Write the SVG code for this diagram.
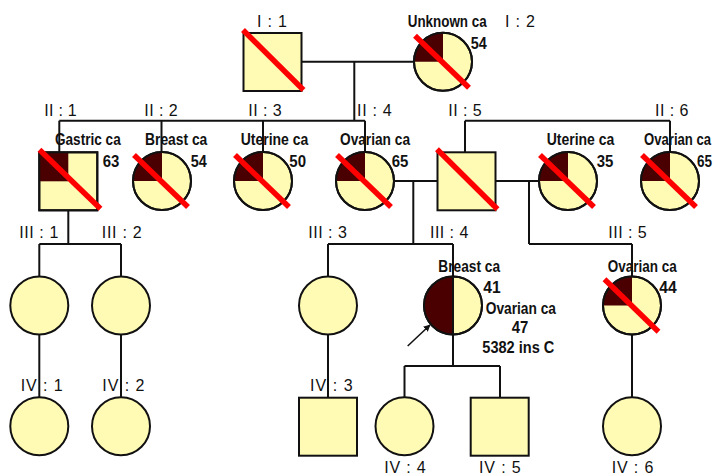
<svg xmlns="http://www.w3.org/2000/svg" width="716" height="475" viewBox="0 0 716 475">
<defs>
<style>
.bg{fill:#ffffff}
.sh{fill:#fffbb5;stroke:#111;stroke-width:2}
.dk{fill:#4a0000;stroke:none}
.ol{fill:none;stroke:#111;stroke-width:2}
.sl{stroke:#ff0000;stroke-width:5.5;stroke-linecap:butt}
.cn line,.cn polyline{stroke:#111;stroke-width:2;fill:none}
.lb{font-family:"Liberation Sans",Arial,sans-serif;font-size:16px;fill:#111}
.bd{font-family:"Liberation Sans Narrow","Arial Narrow","Liberation Sans",Arial,sans-serif;font-weight:bold;font-size:16px;fill:#111}
</style>
<marker id="ah" viewBox="0 0 10 10" refX="9" refY="5" markerWidth="7" markerHeight="7" orient="auto" markerUnits="userSpaceOnUse">
<path d="M0,0 L10,5 L0,10 Z" fill="#111"/>
</marker>
</defs>
<rect class="bg" x="0" y="0" width="716" height="475"/>

<g id="connectors" class="cn">
<line x1="301.5" y1="61.7" x2="414" y2="61.7"/>
<line x1="354.3" y1="61.7" x2="354.3" y2="120.7"/>
<line x1="59.3" y1="120.7" x2="365" y2="120.7"/>
<line x1="59.3" y1="120.7" x2="59.3" y2="152.3"/>
<line x1="161.5" y1="120.7" x2="161.5" y2="152"/>
<line x1="263" y1="120.7" x2="263" y2="152"/>
<line x1="365" y1="120.7" x2="365" y2="152"/>
<line x1="465" y1="120.7" x2="670" y2="120.7"/>
<line x1="465" y1="120.7" x2="465" y2="152.3"/>
<line x1="670" y1="120.7" x2="670" y2="152"/>
<line x1="394" y1="181" x2="437.5" y2="181"/>
<line x1="413.3" y1="181" x2="413.3" y2="244"/>
<line x1="328" y1="244" x2="453" y2="244"/>
<line x1="328" y1="244" x2="328" y2="276.5"/>
<line x1="453" y1="244" x2="453" y2="276.5"/>
<line x1="495.5" y1="181" x2="539" y2="181"/>
<line x1="529" y1="181" x2="529" y2="244"/>
<line x1="529" y1="244" x2="632" y2="244"/>
<line x1="632" y1="244" x2="632" y2="276.5"/>
<line x1="68.3" y1="210.3" x2="68.3" y2="244"/>
<line x1="39.3" y1="244" x2="121" y2="244"/>
<line x1="39.3" y1="244" x2="39.3" y2="276.5"/>
<line x1="121" y1="244" x2="121" y2="276.5"/>
<line x1="39.3" y1="334.5" x2="39.3" y2="397.3"/>
<line x1="121" y1="334.5" x2="121" y2="397.3"/>
<line x1="328" y1="334.5" x2="328" y2="397.7"/>
<line x1="453" y1="334.5" x2="453" y2="366"/>
<line x1="404.5" y1="366" x2="500" y2="366"/>
<line x1="404.5" y1="366" x2="404.5" y2="397.3"/>
<line x1="500" y1="366" x2="500" y2="397.7"/>
<line x1="632" y1="334.5" x2="632" y2="397.3"/>
<line x1="407.7" y1="346" x2="430" y2="325" style="stroke-width:1.5" marker-end="url(#ah)"/>
</g>

<g id="I-1">
<rect class="sh" x="243.5" y="33" width="58" height="58"/>
<line class="sl" x1="243" y1="30" x2="303.5" y2="90"/>
<text class="lb" x="257" y="27" textLength="30" lengthAdjust="spacing">I : 1</text>
</g>
<g id="I-2">
<circle class="sh" cx="443" cy="61.7" r="29"/>
<path class="dk" d="M443,61.7 L414,61.7 A29,29 0 0 1 443,32.7 Z"/>
<circle class="ol" cx="443" cy="61.7" r="29"/>
<line class="sl" x1="415" y1="35.7" x2="469" y2="87.7"/>
<text class="bd" x="407.7" y="27" textLength="79" lengthAdjust="spacingAndGlyphs">Unknown ca</text>
<text class="bd" x="470.7" y="49" textLength="16" lengthAdjust="spacingAndGlyphs">54</text>
<text class="lb" x="505" y="27" textLength="30" lengthAdjust="spacing">I : 2</text>
</g>

<g id="II-1">
<rect class="sh" x="39.3" y="152.3" width="58" height="58"/>
<rect class="dk" x="39.3" y="152.3" width="29" height="29"/>
<rect class="ol" x="39.3" y="152.3" width="58" height="58"/>
<line class="sl" x1="39.5" y1="149.8" x2="100.5" y2="208.8"/>
<text class="lb" x="44.3" y="115.5" textLength="32.4" lengthAdjust="spacing">II : 1</text>
<text class="bd" x="55" y="145" textLength="65.7" lengthAdjust="spacingAndGlyphs">Gastric ca</text>
<text class="bd" x="102.7" y="166.7" textLength="16.6" lengthAdjust="spacingAndGlyphs">63</text>
</g>
<g id="II-2">
<circle class="sh" cx="162" cy="181" r="29"/>
<path class="dk" d="M162,181 L133,181 A29,29 0 0 1 162,152 Z"/>
<circle class="ol" cx="162" cy="181" r="29"/>
<line class="sl" x1="134" y1="155" x2="188" y2="207"/>
<text class="lb" x="144.3" y="115.5" textLength="33.4" lengthAdjust="spacing">II : 2</text>
<text class="bd" x="145" y="145" textLength="62.3" lengthAdjust="spacingAndGlyphs">Breast ca</text>
<text class="bd" x="190.7" y="166.7" textLength="16" lengthAdjust="spacingAndGlyphs">54</text>
</g>
<g id="II-3">
<circle class="sh" cx="263" cy="181" r="29"/>
<path class="dk" d="M263,181 L234,181 A29,29 0 0 1 263,152 Z"/>
<circle class="ol" cx="263" cy="181" r="29"/>
<line class="sl" x1="235" y1="155" x2="289" y2="207"/>
<text class="lb" x="248.3" y="115.5" textLength="33.4" lengthAdjust="spacing">II : 3</text>
<text class="bd" x="240.7" y="145" textLength="67.6" lengthAdjust="spacingAndGlyphs">Uterine ca</text>
<text class="bd" x="289.3" y="166.7" textLength="16.7" lengthAdjust="spacingAndGlyphs">50</text>
</g>
<g id="II-4">
<circle class="sh" cx="365" cy="181" r="29"/>
<path class="dk" d="M365,181 L336,181 A29,29 0 0 1 365,152 Z"/>
<circle class="ol" cx="365" cy="181" r="29"/>
<line class="sl" x1="337" y1="155" x2="391" y2="207"/>
<text class="lb" x="357" y="115.5" textLength="34.7" lengthAdjust="spacing">II : 4</text>
<text class="bd" x="340" y="145" textLength="70" lengthAdjust="spacingAndGlyphs">Ovarian ca</text>
<text class="bd" x="391.7" y="166.7" textLength="16.6" lengthAdjust="spacingAndGlyphs">65</text>
</g>
<g id="II-5">
<rect class="sh" x="437.5" y="152.3" width="58" height="58"/>
<line class="sl" x1="437" y1="149.3" x2="497.5" y2="209.3"/>
<text class="lb" x="448.3" y="115.5" textLength="33.4" lengthAdjust="spacing">II : 5</text>
</g>
<g id="II-5-spouse">
<circle class="sh" cx="568" cy="181" r="29"/>
<path class="dk" d="M568,181 L539,181 A29,29 0 0 1 568,152 Z"/>
<circle class="ol" cx="568" cy="181" r="29"/>
<line class="sl" x1="540" y1="155" x2="594" y2="207"/>
<text class="bd" x="546.7" y="145" textLength="67.6" lengthAdjust="spacingAndGlyphs">Uterine ca</text>
<text class="bd" x="596.7" y="166.7" textLength="16.6" lengthAdjust="spacingAndGlyphs">35</text>
</g>
<g id="II-6">
<circle class="sh" cx="670" cy="181" r="29"/>
<path class="dk" d="M670,181 L641,181 A29,29 0 0 1 670,152 Z"/>
<circle class="ol" cx="670" cy="181" r="29"/>
<line class="sl" x1="642" y1="155" x2="696" y2="207"/>
<text class="lb" x="655" y="115.5" textLength="33.3" lengthAdjust="spacing">II : 6</text>
<text class="bd" transform="translate(644,145) scale(0.82,1)">Ovarian ca</text>
<text class="bd" x="697" y="166.7" textLength="15" lengthAdjust="spacingAndGlyphs">65</text>
</g>

<g id="III-1">
<circle class="sh" cx="39.3" cy="305.5" r="29"/>
<text class="lb" x="19.3" y="238.3" textLength="39" lengthAdjust="spacing">III : 1</text>
</g>
<g id="III-2">
<circle class="sh" cx="121" cy="305.5" r="29"/>
<text class="lb" x="101.7" y="238.3" textLength="40" lengthAdjust="spacing">III : 2</text>
</g>
<g id="III-3">
<circle class="sh" cx="328" cy="305.5" r="29"/>
<text class="lb" x="308.3" y="238.3" textLength="38.5" lengthAdjust="spacing">III : 3</text>
</g>
<g id="III-4">
<circle class="sh" cx="453" cy="305.5" r="29"/>
<path class="dk" d="M453,334.5 A29,29 0 0 1 453,276.5 Z"/>
<circle class="ol" cx="453" cy="305.5" r="29"/>
<line x1="453" y1="276.5" x2="453" y2="334.5" stroke="#111" stroke-width="2"/>
<text class="lb" x="430" y="238.3" textLength="38.3" lengthAdjust="spacing">III : 4</text>
<text class="bd" x="438.3" y="271.7" textLength="61.7" lengthAdjust="spacingAndGlyphs">Breast ca</text>
<text class="bd" x="483.3" y="292.7" textLength="17.4" lengthAdjust="spacingAndGlyphs">41</text>
<text class="bd" x="485.7" y="314" textLength="70.3" lengthAdjust="spacingAndGlyphs">Ovarian ca</text>
<text class="bd" x="511.7" y="333.3" textLength="16.6" lengthAdjust="spacingAndGlyphs">47</text>
<text class="bd" x="482.3" y="353.3" textLength="72" lengthAdjust="spacingAndGlyphs">5382 ins C</text>
</g>
<g id="III-5">
<circle class="sh" cx="632" cy="305.5" r="29"/>
<path class="dk" d="M632,305.5 L603,305.5 A29,29 0 0 1 632,276.5 Z"/>
<circle class="ol" cx="632" cy="305.5" r="29"/>
<line class="sl" x1="604.5" y1="279.3" x2="658.5" y2="331.7"/>
<text class="lb" x="608.3" y="238.3" textLength="38.4" lengthAdjust="spacing">III : 5</text>
<text class="bd" x="607.7" y="271.7" textLength="69" lengthAdjust="spacingAndGlyphs">Ovarian ca</text>
<text class="bd" x="659.3" y="293.3" textLength="17.4" lengthAdjust="spacingAndGlyphs">44</text>
</g>

<g id="IV-1">
<circle class="sh" cx="39.3" cy="426.3" r="29"/>
<text class="lb" x="20.7" y="391" textLength="42" lengthAdjust="spacing">IV : 1</text>
</g>
<g id="IV-2">
<circle class="sh" cx="121" cy="426.3" r="29"/>
<text class="lb" x="102.3" y="391" textLength="42" lengthAdjust="spacing">IV : 2</text>
</g>
<g id="IV-3">
<rect class="sh" x="299" y="397.7" width="58" height="58"/>
<text class="lb" x="310" y="391" textLength="42.7" lengthAdjust="spacing">IV : 3</text>
</g>
<g id="IV-4">
<circle class="sh" cx="404.5" cy="426.3" r="29"/>
<text class="lb" x="384.3" y="473" textLength="41.4" lengthAdjust="spacing">IV : 4</text>
</g>
<g id="IV-5">
<rect class="sh" x="470.7" y="397.7" width="58" height="58"/>
<text class="lb" x="479" y="473" textLength="41.7" lengthAdjust="spacing">IV : 5</text>
</g>
<g id="IV-6">
<circle class="sh" cx="632" cy="426.3" r="29"/>
<text class="lb" x="611.7" y="473" textLength="41.6" lengthAdjust="spacing">IV : 6</text>
</g>
</svg>
